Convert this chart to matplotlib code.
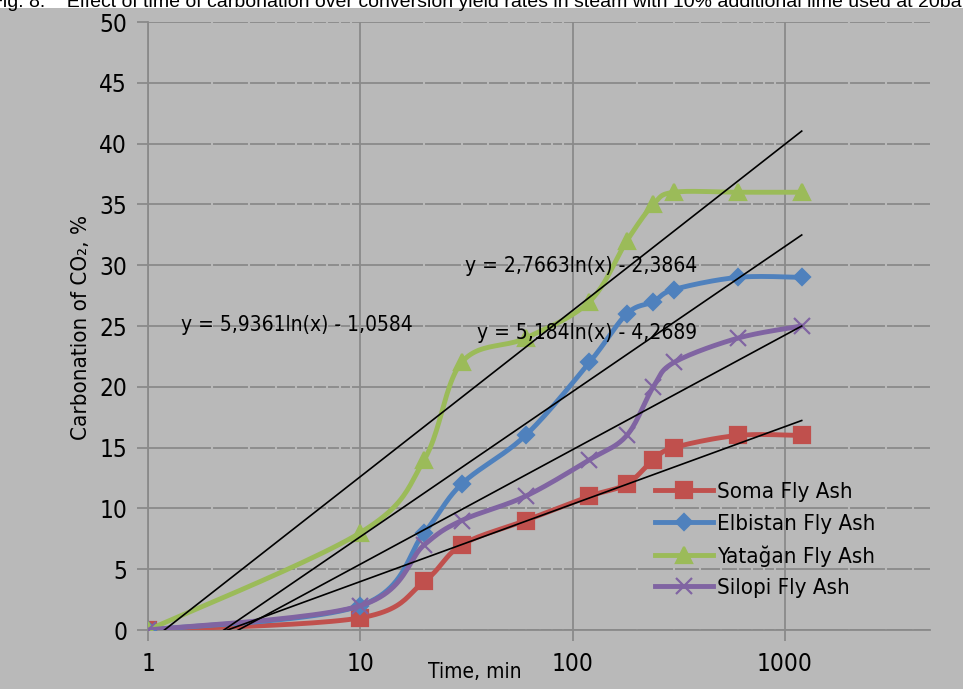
import numpy as np
import matplotlib.pyplot as plt
from matplotlib.patches import Rectangle

# data
time_min = [1, 10, 20, 30, 60, 120, 180, 240, 300, 600, 1200]
soma = [0, 1, 4, 7, 9, 11, 12, 14, 15, 16, 16]
elbistan = [0, 2, 8, 12, 16, 22, 26, 27, 28, 29, 29]
yatagan = [0, 8, 14, 22, 24, 27, 32, 35, 36, 36, 36]
silopi = [0, 2, 7, 9, 11, 14, 16, 20, 22, 24, 25]

names = ['Soma Fly Ash', 'Elbistan Fly Ash', 'Yatağan Fly Ash', 'Silopi Fly Ash']
colors = ['#c0504d', '#4f81bd', '#9bbb59', '#8064a2']
markers = ['s', 'D', '^', 'x']
msizes = [11, 8.5, 11, 11]
series = [soma, elbistan, yatagan, silopi]

eq_labels = ['y = 5,9361ln(x) - 1,0584', 'y = 2,7663ln(x) - 2,3864', 'y = 5,184ln(x) - 4,2689']

bg = '#b9b9b9'
grid_c = '#8a8a8a'
plt.rcParams['font.family'] = ['DejaVu Sans']
plt.rcParams['font.stretch'] = 'condensed'


def smooth(x, y, n=25):
    # excel-like smoothed line, bezier through the points in screen-ish space
    u = np.log10(x) * 212.3
    v = np.array(y, dtype=float) * 12.12
    p = np.column_stack([u, v])
    out = []
    for i in range(len(p) - 1):
        p0 = p[max(i - 1, 0)]
        p1 = p[i]
        p2 = p[i + 1]
        p3 = p[min(i + 2, len(p) - 1)]
        c1 = p1 + (p2 - p0) / 6
        c2 = p2 - (p3 - p1) / 6
        t = np.linspace(0, 1, n)[:, None]
        seg = (1 - t)**3 * p1 + 3 * (1 - t)**2 * t * c1 + 3 * (1 - t) * t**2 * c2 + t**3 * p2
        out.append(seg if i == 0 else seg[1:])
    out = np.vstack(out)
    return 10**(out[:, 0] / 212.3), out[:, 1] / 12.12


fig = plt.figure(figsize=(9.63, 6.89), dpi=100, facecolor=bg)
fig.patches.append(Rectangle((0, 1 - 8 / 689), 1, 8 / 689, transform=fig.transFigure,
                             facecolor='white', edgecolor='none', zorder=0))
fig.text(-9 / 963, 1 - 7 / 689,
         'Fig. 8.    Effect of time of carbonation over conversion yield rates in steam with 10% additional lime used at 20bar',
         fontsize=14, family=['Liberation Sans', 'DejaVu Sans'], stretch='normal',
         va='baseline', ha='left')

ax = fig.add_axes([148 / 963, 1 - 630 / 689, (930 - 148) / 963, (630 - 22) / 689])
ax.set_facecolor(bg)
ax.set_xscale('log')
ax.set_xlim(1, 10**((930 - 148) / 212.3))
ax.set_ylim(0, 50)
ax.set_yticks(np.arange(0, 51, 5))
ax.set_xticks([1, 10, 100, 1000])
ax.set_xticklabels(['1', '10', '100', '1000'])
ax.minorticks_off()
ax.set_axisbelow(True)
ax.grid(True, which='major', color=grid_c, lw=1.3)
# small gaps in the horizontal lines at minor log positions
for dec in [1, 10, 100, 1000]:
    for k in range(2, 10):
        ax.axvline(dec * k, color=bg, lw=1.5, zorder=0.7)
for s in ['top', 'right']:
    ax.spines[s].set_visible(False)
for s in ['left', 'bottom']:
    ax.spines[s].set_color(grid_c)
    ax.spines[s].set_linewidth(1.3)
ax.tick_params(axis='both', colors=grid_c, length=8, width=1.3, labelcolor='black',
               labelsize=17.5)
ax.tick_params(axis='x', pad=8)
ax.tick_params(axis='y', pad=7)

for ys, c, m, ms, nm in zip(series, colors, markers, msizes, names):
    sx, sy = smooth(time_min, ys)
    ax.plot(sx, sy, color=c, lw=3.5, zorder=3, solid_capstyle='round')
    ax.plot(time_min, ys, ls='none', marker=m, ms=ms, color=c, mew=1.6, zorder=3)
    ax.plot([], [], color=c, lw=3.5, marker=m, ms=ms, mew=1.6, label=nm)

# logarithmic trendlines
lnx = np.log(time_min)
xt = np.array([1, 1200])
for ys in series:
    a, b = np.polyfit(lnx, ys, 1)
    ax.plot(xt, a * np.log(xt) + b, color='black', lw=1.2, zorder=4)

ax.text(297 / 963, 1 - 325 / 689, eq_labels[0], transform=fig.transFigure,
        fontsize=15, ha='center', va='center')
ax.text(581 / 963, 1 - 266 / 689, eq_labels[1], transform=fig.transFigure,
        fontsize=15, ha='center', va='center')
ax.text(587 / 963, 1 - 333 / 689, eq_labels[2], transform=fig.transFigure,
        fontsize=15, ha='center', va='center')

ax.legend(loc='upper left', bbox_to_anchor=(655 / 963, 1 - 482 / 689),
          bbox_transform=fig.transFigure, frameon=False, fontsize=16,
          handlelength=2.6, handletextpad=0.2, labelspacing=0.52, borderpad=0,
          borderaxespad=0)

fig.text(475 / 963, 1 - 672 / 689, 'Time, min', fontsize=15, ha='center', va='center')
fig.text(81 / 963, 1 - 327 / 689, 'Carbonation of CO₂, %', fontsize=16, rotation=90,
         ha='center', va='center')

fig.savefig('out.png', dpi=100, facecolor=bg)
